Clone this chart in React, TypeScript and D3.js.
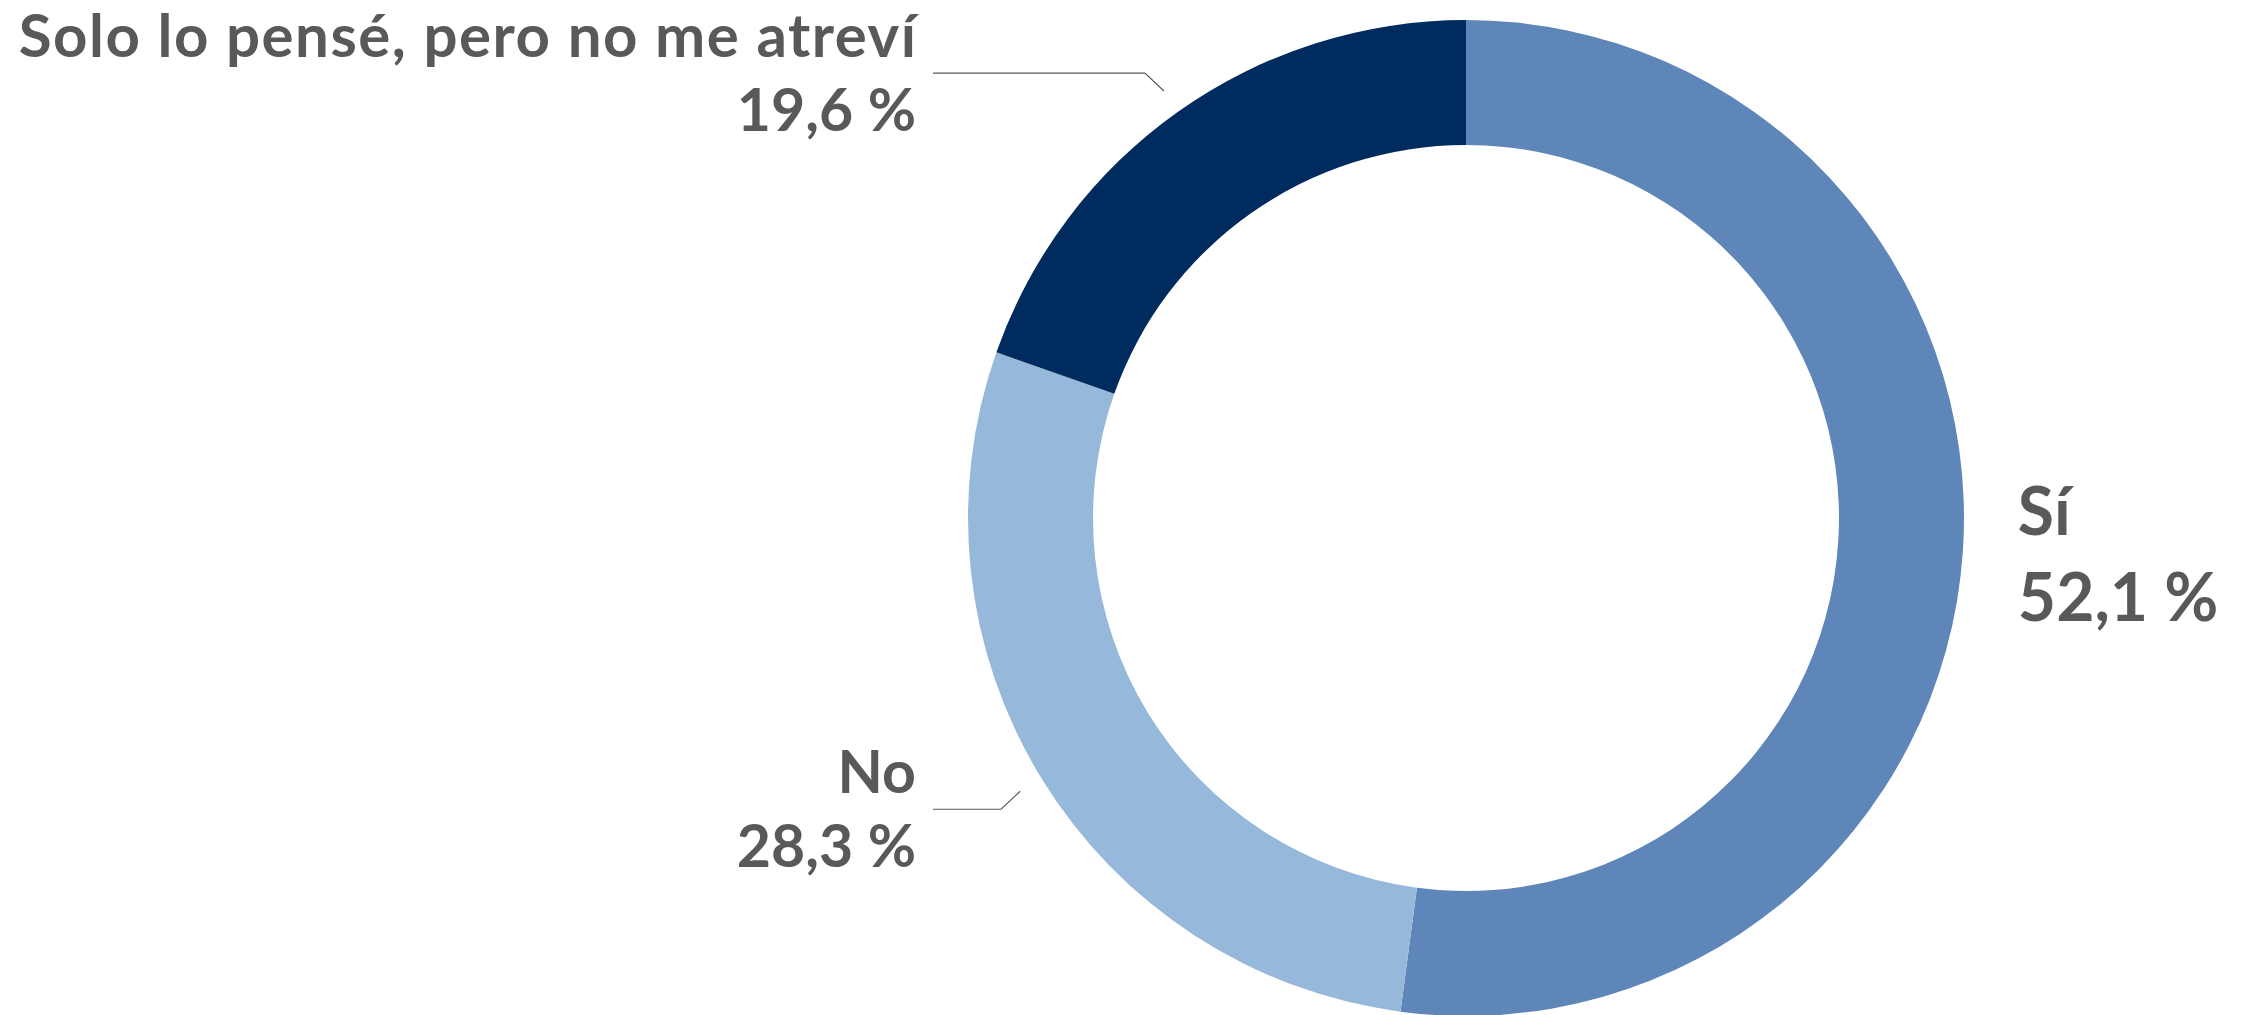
import React, { useEffect, useRef } from 'react';
import * as d3 from 'd3';

const categories = ['Sí', 'No', 'Solo lo pensé, pero no me atreví'];
const values = [52.1, 28.3, 19.6];
const valueLabels = ['52,1 %', '28,3 %', '19,6 %'];
const colors = ['#5E86B8', '#96B9DB', '#002B5E'];

const WIDTH = 2241;
const HEIGHT = 1015;

const App: React.FC = () => {
    const svgRef = useRef<SVGSVGElement>(null);

    useEffect(() => {
        if (!svgRef.current) return;
        const svg = d3.select(svgRef.current);
        svg.selectAll("*").remove();

        const cx = 1466;
        const cy = 518;
        const outerR = 498;
        const innerR = 373;
        const labelR = 523;
        const textColor = '#595959';
        const font = 'Lato, "Open Sans", sans-serif';

        const data = categories.map((c, i) => ({ name: c, value: values[i], label: valueLabels[i], color: colors[i] }));

        const pie = d3.pie<typeof data[number]>()
            .value(d => d.value)
            .sort(null)
            .startAngle(0)
            .endAngle(2 * Math.PI);

        const arc = d3.arc<d3.PieArcDatum<typeof data[number]>>()
            .innerRadius(innerR)
            .outerRadius(outerR);

        const labelArc = d3.arc<d3.PieArcDatum<typeof data[number]>>()
            .innerRadius(labelR)
            .outerRadius(labelR);

        const g = svg.append("g").attr("transform", `translate(${cx},${cy})`);
        const arcs = pie(data);

        g.selectAll(".slice")
            .data(arcs)
            .enter().append("path")
            .attr("class", "slice")
            .attr("d", arc)
            .attr("fill", d => d.data.color);

        const lineEndX = 933 - cx; // column where left leaders stop
        const textEndX = 916 - cx;

        arcs.forEach(a => {
            const [ax, ay] = labelArc.centroid(a);
            if (ax > 0) {
                // right-side label, no leader
                const t = g.append("text")
                    .attr("fill", textColor)
                    .style("font-family", font)
                    .style("font-weight", 700)
                    .style("font-size", "66px");
                t.append("tspan").attr("x", ax + 30).attr("y", ay - 17).text(a.data.name);
                t.append("tspan").attr("x", ax + 30).attr("y", ay + 69).text(a.data.label);
            } else {
                const dir = ay < 0 ? -1 : 1;
                const ey = ay + dir * 18;
                const ex = ax - 19;
                g.append("polyline")
                    .attr("points", `${ax},${ay} ${ex},${ey} ${lineEndX},${ey}`)
                    .attr("fill", "none")
                    .attr("stroke", textColor)
                    .attr("stroke-width", 1.2);
                const t = g.append("text")
                    .attr("text-anchor", "end")
                    .attr("fill", textColor)
                    .style("font-family", font)
                    .style("font-weight", 700)
                    .style("font-size", "59px");
                const long = a.data.name.length > 10;
                t.append("tspan").attr("x", textEndX + (long ? 1.5 : 0)).attr("y", ey - 16)
                    .style("letter-spacing", long ? "1.5px" : "0px")
                    .style("font-size", long ? "60px" : "59px")
                    .text(a.data.name);
                t.append("tspan").attr("x", textEndX).attr("y", ey + 58).text(a.data.label);
            }
        });
    }, []);

    return (
        <div style={{ position: 'fixed', left: 0, top: 0, background: '#fff' }}>
            <svg ref={svgRef} width={WIDTH} height={HEIGHT} viewBox={`0 0 ${WIDTH} ${HEIGHT}`} style={{ display: 'block' }} />
        </div>
    );
};

export default App;
